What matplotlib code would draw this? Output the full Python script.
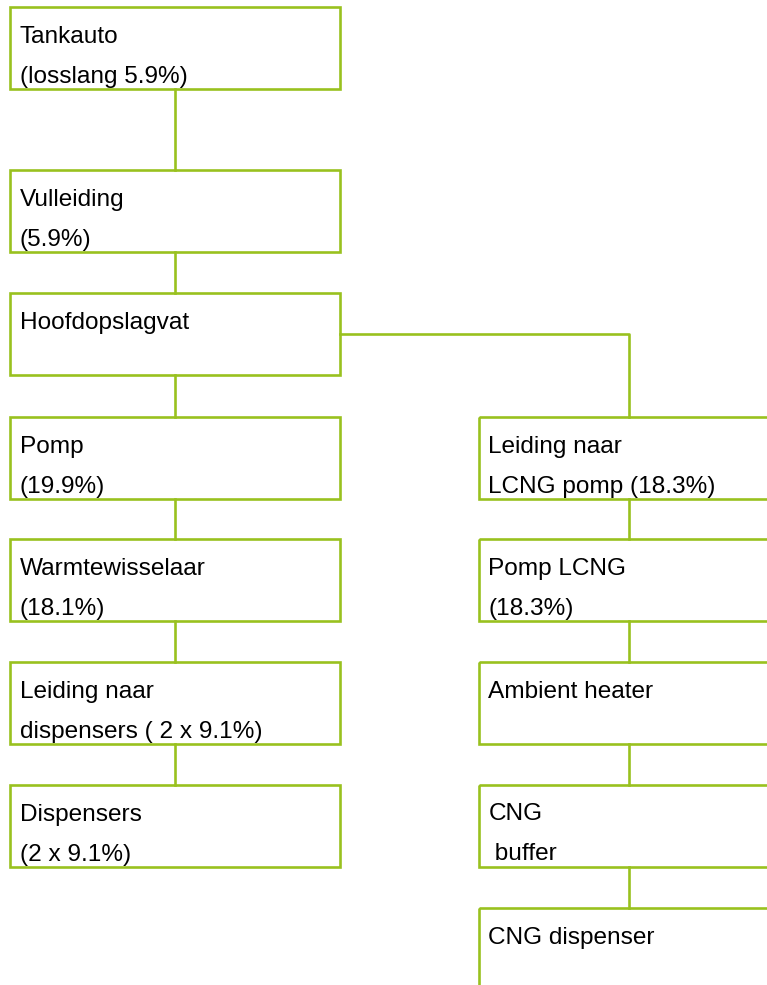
import matplotlib.pyplot as plt
from matplotlib.patches import Rectangle

# Tekst per blok (links: hoofdlijn, rechts: LCNG tak)
left_labels = [
    ["Tankauto", "(losslang 5.9%)"],
    ["Vulleiding", "(5.9%)"],
    ["Hoofdopslagvat", ""],
    ["Pomp", "(19.9%)"],
    ["Warmtewisselaar", "(18.1%)"],
    ["Leiding naar", "dispensers ( 2 x 9.1%)"],
    ["Dispensers", "(2 x 9.1%)"],
]
right_labels = [
    ["Leiding naar", "LCNG pomp (18.3%)"],
    ["Pomp LCNG", "(18.3%)"],
    ["Ambient heater", ""],
    ["CNG", " buffer"],
    ["CNG dispenser", ""],
]

# Layout (pixels, y naar beneden)
W, H = 767, 985
row_top = [7, 170, 293, 417, 539, 662, 784.5, 908]
box_h = 82
box_w = 330
left_x = 10
right_x = 479
left_conn = 175
right_conn = 629
green = "#99C11F"
lw = 1.9

plt.rcParams["font.family"] = ["Liberation Sans", "DejaVu Sans"]

fig = plt.figure(figsize=(W / 100, H / 100), dpi=100)
ax = fig.add_axes([0, 0, 1, 1])
ax.set_xlim(0, W)
ax.set_ylim(H, 0)
ax.axis("off")


def draw_box(x, top, lines):
    ax.add_patch(Rectangle((x, top), box_w, box_h, fill=False,
                           edgecolor=green, linewidth=lw))
    ax.text(x + 9.5, top + 36, lines[0], fontsize=17.6, va="baseline", color="black")
    if lines[1]:
        ax.text(x + 9.5, top + 76, lines[1], fontsize=17.6, va="baseline", color="black")


# Linker kolom
for i, lines in enumerate(left_labels):
    draw_box(left_x, row_top[i], lines)
    if i > 0:
        ax.plot([left_conn, left_conn], [row_top[i - 1] + box_h, row_top[i]],
                color=green, linewidth=lw)

# Rechter kolom (start op rij 3)
for j, lines in enumerate(right_labels):
    r = j + 3
    draw_box(right_x, row_top[r], lines)
    if j > 0:
        ax.plot([right_conn, right_conn], [row_top[r - 1] + box_h, row_top[r]],
                color=green, linewidth=lw)

# Aftakking vanaf hoofdopslagvat
mid = row_top[2] + box_h / 2
ax.plot([left_x + box_w, right_conn, right_conn], [mid, mid, row_top[3]],
        color=green, linewidth=lw)

plt.savefig("out.png", dpi=100)
